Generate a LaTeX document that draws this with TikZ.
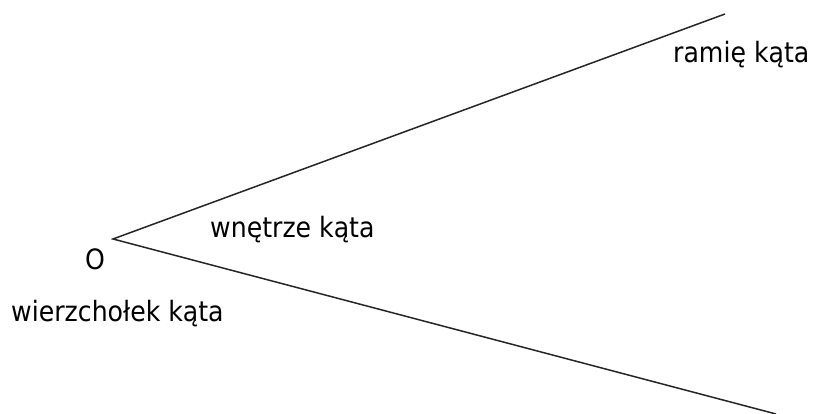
\documentclass[tikz,border=0pt]{standalone}
\usepackage{fontspec}
\setmainfont{DejaVu Sans Condensed}
\begin{document}
\begin{tikzpicture}[x=1pt,y=1pt,
  lbl/.style={inner sep=0pt,anchor=base west,font=\fontsize{28}{31}\selectfont},
  ray/.style={line width=1.5pt,color=black!85}]
\useasboundingbox (0,0) rectangle (815,414);
\coordinate (O) at (113,175);
\coordinate (A) at (725,400);
\coordinate (B) at (776,0);
\begin{scope}
\clip (0,0) rectangle (815,414);
\draw[ray] (A) -- (O) -- (B);
\end{scope}
\node[lbl] (ramie) at (673,351) {ramię kąta};
\node[lbl] (wnetrze) at (210,176) {wnętrze kąta};
\node[lbl] (o) at (85,144) {O};
\node[lbl] (wierz) at (11,92) {wierzchołek kąta};
\end{tikzpicture}
\end{document}
